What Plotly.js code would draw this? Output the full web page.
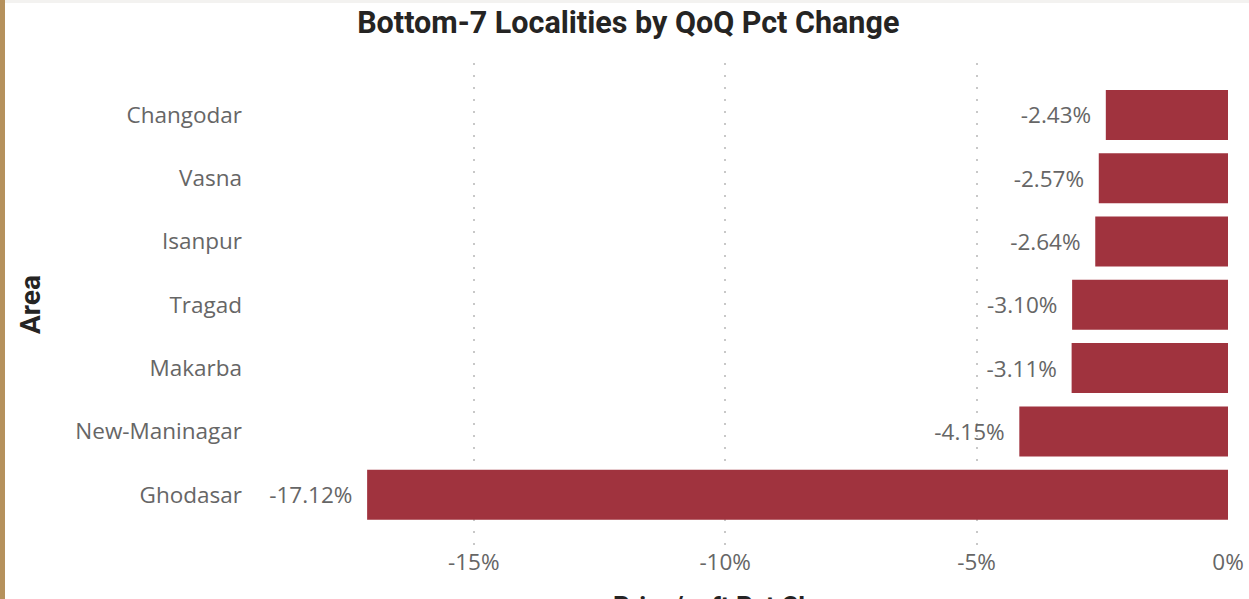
<!DOCTYPE html>
<html>
<head>
<meta charset="utf-8">
<script src="https://cdn.plot.ly/plotly-3.0.1.min.js"></script>
<style>
  html, body { margin: 0; padding: 0; background: #ffffff; overflow: hidden; }
  #chart { width: 1249px; height: 599px; }
  #leftband { position: absolute; left: 0; top: 0; width: 5px; height: 599px; background: #b5915c; pointer-events: none; }
  #topband { position: absolute; left: 5px; top: 0; width: 1244px; height: 3px; background: #f3f2f0; pointer-events: none; }
</style>
</head>
<body>
<div id="chart"></div>
<div id="leftband"></div>
<div id="topband"></div>
<script>
const areas = ["Changodar", "Vasna", "Isanpur", "Tragad", "Makarba", "New-Maninagar", "Ghodasar"];
const pctChange = [-2.43, -2.57, -2.64, -3.10, -3.11, -4.15, -17.12];
const xTickVals = [-15, -10, -5, 0];
const xTickText = ["-15%", "-10%", "-5%", "0%"];
const xTitle = "Price/sqft Pct Change";

const labelFont = "Segoe UI, 'Open Sans', 'Noto Sans', sans-serif";

const trace = {
  type: "bar",
  orientation: "h",
  x: pctChange,
  y: areas,
  marker: { color: "#a0333e" },
  width: 0.79,
  texttemplate: "%{x:.2f}%\u00a0\u00a0",
  textposition: "outside",
  cliponaxis: false,
  textfont: { family: labelFont, size: 22.5, color: "#666666" },
  hoverinfo: "x+y"
};

const layout = {
  width: 1249,
  height: 599,
  margin: { l: 255, r: 21, t: 63, b: 53 },
  paper_bgcolor: "#ffffff",
  plot_bgcolor: "#ffffff",
  showlegend: false,
  title: {
    text: "<b>Bottom-7 Localities by QoQ Pct Change</b>",
    font: { family: "Roboto, sans-serif", size: 30.5, color: "#252423" },
    xref: "container", x: 0.503, xanchor: "center",
    yref: "container", y: 0.962, yanchor: "middle"
  },
  xaxis: {
    range: [-19.35, 0],
    tickvals: xTickVals,
    ticktext: xTickText,
    showgrid: true,
    gridcolor: "#c8c8c8",
    gridwidth: 1.5,
    griddash: "2px,10px",
    zeroline: false,
    showline: false,
    ticks: "",
    tickfont: { family: labelFont, size: 22.5, color: "#666666" },
    title: { text: "" }
  },
  yaxis: {
    type: "category",
    categoryorder: "array",
    categoryarray: areas,
    range: [6.81, -0.82],
    showgrid: false,
    zeroline: false,
    showline: false,
    ticks: "",
    ticklabelstandoff: 12,
    tickfont: { family: labelFont, size: 22.5, color: "#666666" },
    title: {
      text: "<b>Area</b>",
      font: { family: "Roboto, sans-serif", size: 28, color: "#252423" },
      standoff: 26
    }
  },
  annotations: [{
    text: "<b>" + xTitle + "</b>",
    xref: "paper", x: 0.5, xanchor: "center",
    yref: "paper", y: -0.088, yanchor: "top",
    showarrow: false,
    font: { family: "Roboto, sans-serif", size: 26, color: "#252423" }
  }],
  bargap: 0.21
};

Plotly.newPlot("chart", [trace], layout, { displayModeBar: false });
</script>
</body>
</html>
